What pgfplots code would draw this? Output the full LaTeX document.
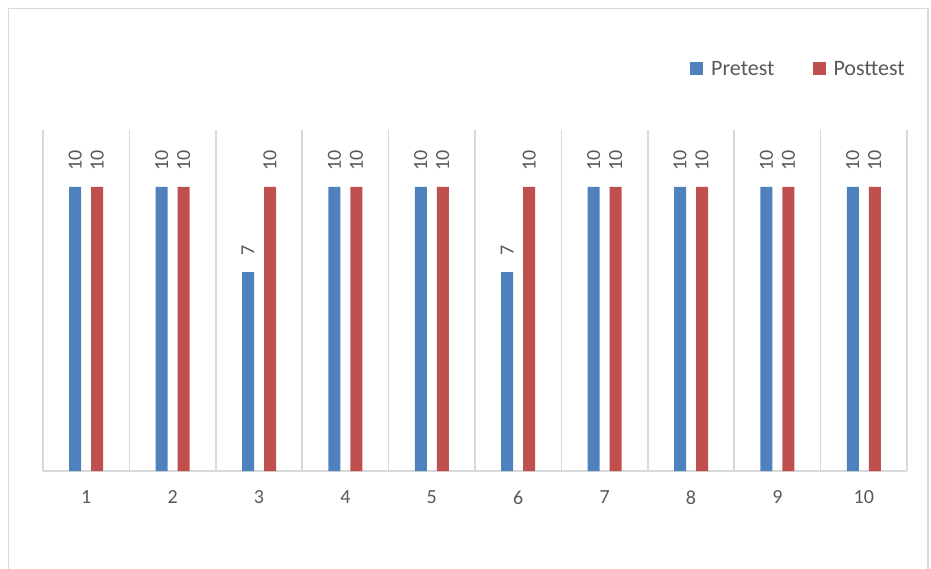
\documentclass[border=0pt]{standalone}
\usepackage{pgfplots}
\pgfplotsset{compat=1.18}
\usepackage{fontspec}
\setmainfont{Carlito}
\definecolor{pblue}{HTML}{4F81BD}
\definecolor{pred}{HTML}{C0504D}
\definecolor{txt}{HTML}{595959}
\definecolor{gridc}{HTML}{D9D9D9}
\begin{document}
\begin{tikzpicture}[x=1pt,y=1pt]
\path[use as bounding box] (0,0) rectangle (931,568);
\draw[gridc, line width=1.5pt] (8.5,-10) -- (8.5,559.5) -- (928,559.5) -- (928,-10);
\begin{axis}[
  at={(43pt,97pt)}, anchor=south west,
  scale only axis, width=864pt, height=341pt,
  ybar, bar width=12pt,
  xmin=0.5, xmax=10.5, ymin=0, ymax=12,
  axis y line=none,
  axis x line*=bottom,
  x axis line style={gridc, line width=1.5pt, -},
  xtick={1,...,10},
  minor xtick={0.5,1.5,...,10.5},
  xminorgrids=true,
  minor grid style={gridc, line width=1.5pt},
  major tick length=0pt, minor tick length=0pt,
  xticklabel style={font=\fontsize{20}{22}\selectfont, text=txt, yshift=-16pt},
  /pgf/number format/assume math mode=true,
  nodes near coords,
  every node near coord/.append style={rotate=90, anchor=west, inner xsep=16pt, inner ysep=0pt, font=\fontsize{20}{22}\selectfont, text=txt},
  legend columns=2,
  legend style={at={(1,1.179)}, anchor=east, draw=none, fill=none, inner sep=0pt,
    font=\fontsize{22}{24}\selectfont, text=txt,
    /tikz/every odd column/.append style={column sep=6pt},
    /tikz/every even column/.append style={column sep=36pt}},
  legend image code/.code={\fill[#1] (0pt,-6.5pt) rectangle (13pt,6.5pt);},
]
\addplot[fill=pblue, draw=none, bar shift=-11pt] coordinates {(1,10) (2,10) (3,7) (4,10) (5,10) (6,7) (7,10) (8,10) (9,10) (10,10)};
\addplot[fill=pred, draw=none, bar shift=11pt] coordinates {(1,10) (2,10) (3,10) (4,10) (5,10) (6,10) (7,10) (8,10) (9,10) (10,10)};
\legend{Pretest, Posttest}
\end{axis}
\end{tikzpicture}
\end{document}
